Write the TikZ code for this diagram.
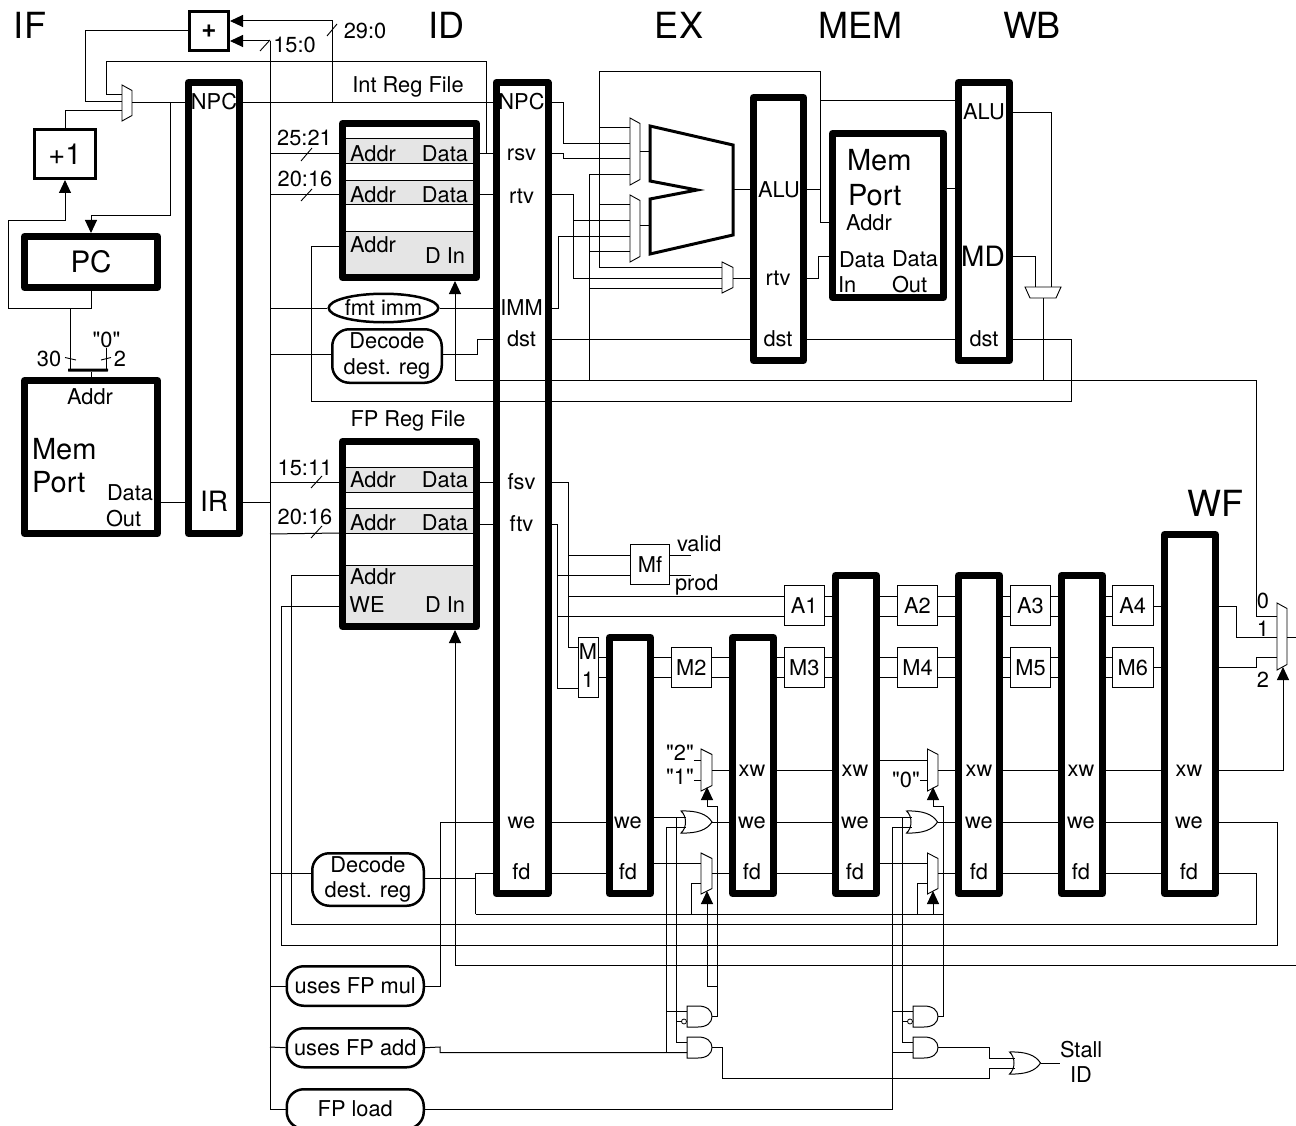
\documentclass[tikz,border=0pt]{standalone}
\usepackage{fontspec}
\setmainfont{TeX Gyre Heros}
\newfontfamily\plainq{TeX Gyre Heros}
\usetikzlibrary{arrows.meta,shapes.geometric}
\newcounter{labn}
\newcommand{\fs}[1]{\fontsize{#1}{#1}\selectfont}
\def\shrv{0}
\tikzset{
  shr/.code={\def\shrv{#1}},
  wire/.style={line width=1pt,line join=miter},
  arr/.style={-{Triangle[length=13pt,width=12pt]}},
  tick/.style={line width=.9pt},
  txt/.style={inner sep=0pt,outer sep=0pt,font=\fs{21.8}},
  big/.style={font=\fs{36}},
  mid/.style={font=\fs{29}},
  reg/.style={shr=7,draw,fill=white,line width=7pt,outer sep=3.5pt,line join=round,inner sep=0pt},
  thinbox/.style={shr=1,draw,fill=white,line width=1pt,outer sep=.5pt,inner sep=0pt,font=\fs{21.8}},
  medbox/.style={shr=2.6,draw,fill=white,line width=2.6pt,outer sep=1.3pt,inner sep=0pt},
  pill/.style={shr=2.5,draw,fill=white,line width=2.5pt,outer sep=1.25pt,rounded corners=17pt,inner sep=0pt,font=\fs{21.8},align=center},
  stripe/.style={shr=1,draw,fill=black!10,line width=1pt,outer sep=.5pt,inner sep=0pt},
  barb/.style={fill=black,inner sep=0pt,outer sep=0pt,rounded corners=.5pt},
  muxline/.style={draw,fill=white,line width=.9pt},
  gatebox/.style={inner sep=0pt,outer sep=0pt},
  gateline/.style={draw,fill=white,line width=1pt},
}
% style, name, x1, y1, x2, y2 (outer edges), text
\newcommand{\boxat}[7]{%
  \pgfmathsetmacro\bw{#5-#3}\pgfmathsetmacro\bh{#6-#4}%
  \pgfmathsetmacro\bx{(#3+#5)/2}\pgfmathsetmacro\by{(#4+#6)/2}%
  \node[#1,minimum width=\bw pt-\shrv pt,minimum height=\bh pt-\shrv pt] (#2) at (\bx,\by) {#7};}
\newcommand{\lab}[4][]{\stepcounter{labn}\node[txt,#1] (lab\arabic{labn}) at (#2,#3) {#4};}
% name, x1, x2, ytop, ybottom of the long side
\newcommand{\mux}[5]{%
  \pgfmathsetmacro\bw{#3-#2}\pgfmathsetmacro\bh{#5-#4}%
  \pgfmathsetmacro\bx{(#2+#3)/2}\pgfmathsetmacro\by{(#4+#5)/2}%
  \pgfmathsetmacro\ya{#4+5.5}\pgfmathsetmacro\yb{#5-5.5}%
  \node[gatebox,minimum width=\bw pt,minimum height=\bh pt] (#1) at (\bx,\by) {};
  \draw[muxline] (#2,#4) -- (#3,\ya) -- (#3,\yb) -- (#2,#5) -- cycle;}
% name, left x, centre y
\newcommand{\orgate}[3]{\begin{scope}[shift={(#2,#3)}]
  \node[gatebox,minimum width=31pt,minimum height=22pt] (#1) at (15.5,0) {};
  \draw[gateline] (0,-11) .. controls (16,-11.5) and (26,-8) .. (31,0) .. controls (26,8) and (16,11.5) .. (0,11) .. controls (6,6) and (6,-6) .. (0,-11) -- cycle;
  \coordinate (#1-a) at (5,-5);\coordinate (#1-b) at (5,5);\coordinate (#1-o) at (31,0);
  \end{scope}}
\newcommand{\andgate}[3]{\begin{scope}[shift={(#2,#3)}]
  \node[gatebox,minimum width=25pt,minimum height=21pt] (#1) at (12.5,0) {};
  \draw[gateline] (0,-10.5) -- (11,-10.5) .. controls (20,-10.5) and (25,-6) .. (25,0) .. controls (25,6) and (20,10.5) .. (11,10.5) -- (0,10.5) -- cycle;
  \coordinate (#1-a) at (0,-5);\coordinate (#1-b) at (0,5);\coordinate (#1-o) at (25,0);
  \end{scope}}
\begin{document}
\begin{tikzpicture}[x=1pt,y=-1pt]
\useasboundingbox (0,0) rectangle (1296,1126);
\clip (0,0) rectangle (1296,1126);

% ---- blocks
\boxat{medbox,font=\bfseries\fs{26}}{plus}{188}{10}{230}{52}{+}
\boxat{medbox,font=\fs{29}}{inc}{33}{128}{97}{180}{+1}
\boxat{reg,font=\fs{29.5}}{pc}{21}{233}{161}{291}{PC}
\boxat{reg}{imem}{21}{377}{161}{537}{}
\boxat{barb}{bar}{68}{368.5}{108}{371.5}{}
\mux{mux0}{122}{132}{85}{121}
\boxat{reg}{ifid}{185}{79}{243}{537}{}
\boxat{reg}{intreg}{339}{120}{480}{281}{}
\boxat{stripe}{is1}{345}{138}{474}{164}{}
\boxat{stripe}{is2}{345}{180}{474}{205}{}
\boxat{stripe}{is3}{345}{231}{474}{275}{}
\node[draw,fill=white,ellipse,line width=2.5pt,outer sep=1.25pt,inner sep=0pt,minimum width=102.5pt,minimum height=28.5pt,font=\fs{21.8}] (fmt) at (383.5,308) {fmt imm};
\boxat{pill}{dec1}{331}{328}{443}{384}{Decode\\[4pt]dest. reg}
\boxat{reg}{fpreg}{339}{438}{480}{630}{}
\boxat{stripe}{fs1}{345}{467}{474}{493}{}
\boxat{stripe}{fs2}{345}{508}{474}{534}{}
\boxat{stripe}{fs3}{345}{565}{474}{624}{}
\boxat{reg}{idex}{492.5}{79}{551.5}{897}{}
\mux{mux1}{630}{640}{118}{185}
\mux{mux2}{630}{640}{195}{262}
\mux{mux3}{722}{733}{262}{293}
\node[gatebox,minimum width=83pt,minimum height=128pt] (alu) at (691.5,190) {};
\draw[line width=3pt,line join=miter] (650,126) -- (733,145) -- (733,235) -- (650,254) -- (650,199) -- (697,190) -- (650,181) -- cycle;
\boxat{reg}{exmem}{750}{94}{807}{364}{}
\boxat{reg}{dmem}{829}{130}{947}{301}{}
\boxat{reg}{memwb}{955}{79}{1013}{364}{}
\node[gatebox,minimum width=36pt,minimum height=11pt] (wbmux) at (1043,292.5) {};
\draw[muxline] (1025,287) -- (1061,287) -- (1056,298) -- (1030,298) -- cycle;
\boxat{thinbox}{mf}{630}{544}{670}{585}{Mf}
\boxat{thinbox}{a1}{783.5}{585}{825}{626}{A1}
\boxat{thinbox}{a2}{897}{585}{938}{626}{A2}
\boxat{thinbox}{a3}{1010}{585}{1051}{626}{A3}
\boxat{thinbox}{a4}{1112}{585}{1153.5}{626}{A4}
\boxat{thinbox}{m1}{578}{637}{599}{698}{}
\boxat{thinbox}{m2}{670.5}{647}{712}{688}{M2}
\boxat{thinbox}{m3}{783.5}{647}{825}{688}{M3}
\boxat{thinbox}{m4}{897}{647}{938}{688}{M4}
\boxat{thinbox}{m5}{1010}{647}{1051}{688}{M5}
\boxat{thinbox}{m6}{1112}{647}{1153.5}{688}{M6}
\boxat{reg}{r1}{606}{634}{654}{897}{}
\boxat{reg}{r2}{729}{634}{777}{897}{}
\boxat{reg}{r3}{832}{572}{880}{897}{}
\boxat{reg}{r4}{955}{572}{1003}{897}{}
\boxat{reg}{r5}{1058}{572}{1106}{897}{}
\boxat{reg}{wf}{1161}{531}{1219}{897}{}
\mux{muxA}{701}{712}{749}{791}
\mux{muxB}{701}{712}{853}{894}
\mux{muxD}{927.5}{938}{749}{791}
\mux{muxE}{927.5}{938}{853}{894}
\mux{muxW}{1277}{1287}{603}{670}
\orgate{orA}{681}{822}
\orgate{orB}{906.5}{822}
\orgate{orS}{1009.5}{1063}
\andgate{andA}{687}{1016.5}
\andgate{andB}{687}{1047.5}
\andgate{andC}{913}{1016.5}
\andgate{andD}{913}{1047.5}
\node[draw,fill=white,circle,line width=.8pt,inner sep=0pt,minimum size=5pt] (bubA) at (684,1021.5) {};
\node[draw,fill=white,circle,line width=.8pt,inner sep=0pt,minimum size=5pt] (bubC) at (910,1021.5) {};
\boxat{pill}{dec2}{311}{852}{425}{907}{Decode\\[4pt]dest. reg}
\boxat{pill}{fmul}{285.5}{965}{425}{1007}{uses FP mul}
\boxat{pill}{fadd}{285.5}{1027}{425}{1068.5}{uses FP add}
\boxat{pill}{fload}{285.5}{1088}{425}{1130}{FP load}

% ---- labels that wires start from
\lab{106.5}{340}{\plainq "0"}
\node[txt] (q2) at (680,753) {\plainq "2"};
\node[txt] (q1) at (680,777) {\plainq "1"};
\node[txt] (q0) at (906,780) {\plainq "0"};
\node[txt,anchor=west] (stall) at (1060,1049.5) {Stall};
\coordinate (vend) at (691,555);
\coordinate (pend) at (691,575);
\coordinate (out) at (1296,637);
\coordinate (dinend) at (1296,965);

% ---- IF wires
\draw[wire] (plus.west) -- (85.5,31) -- (85.5,102) -- (mux0.west |- 0,102);
\draw[wire] (intreg.east |- 0,154) -- (idex.west |- 0,154);
\draw[wire] (486,154) -- (486,62) -- (106,62) -- (106,95) -- (mux0.west |- 0,95);
\draw[wire] (inc.north) -- (65,111) -- (mux0.west |- 0,111);
\draw[wire] (mux0.east |- 0,103) -- (ifid.west |- 0,103);
\draw[wire,arr] (170,103) -- (170,216) -- (pc.north |- 0,216) -- (pc.north);
\draw[wire,arr] (pc.south) -- (91,308) -- (8,308) -- (8,221) -- (65,221) -- (inc.south);
\draw[wire] (70,308) -- (70,0 |- bar.north);
\draw[wire] (lab1.south) -- (lab1.south |- bar.north);
\draw[wire] (bar.south -| imem.north) -- (imem.north);
\draw[tick] (65,357.5) -- (76,360);
\draw[tick] (101,360) -- (111,357.5);
\draw[wire] (imem.east |- 0,502) -- (ifid.west |- 0,502);
\draw[wire] (ifid.east |- 0,502) -- (270,502);
\draw[wire] (ifid.east |- 0,103) -- (idex.west |- 0,103);
\draw[wire,arr] (332,103) -- (332,21) -- (plus.east |- 0,21);
\draw[tick] (327,36) -- (337,24);
\draw[wire,arr] (270,41) -- (plus.east |- 0,41);
\draw[tick] (260,51) -- (270,40);
\draw[wire] (270,41) -- (270,1109) -- (fload.west);

% ---- ID inputs
\draw[wire] (270,154) -- (intreg.west |- 0,154);
\draw[tick] (301,161) -- (312,148);
\draw[wire] (270,195) -- (intreg.west |- 0,195);
\draw[tick] (301,201) -- (312,189);
\draw[wire] (intreg.east |- 0,195) -- (idex.west |- 0,195);
\draw[wire] (270,308) -- (fmt.west);
\draw[wire] (fmt.east) -- (idex.west |- 0,308);
\draw[wire] (270,354) -- (dec1.west |- 0,354);
\draw[wire] (dec1.east |- 0,354) -- (477,354) -- (477,339) -- (idex.west |- 0,339);
\draw[wire] (intreg.west |- 0,247) -- (311,247) -- (311,401) -- (1071,401) -- (1071,339) -- (memwb.east |- 0,339);
\draw[wire,arr] (dinend) -- (455,965) -- (455,0 |- fpreg.south);
\draw[wire,arr] (muxW.west |- 0,616) -- (1256,616) -- (1256,380) -- (455,380) -- (455,0 |- intreg.south);
\draw[wire] (270,482) -- (fpreg.west |- 0,482);
\draw[tick] (311,488) -- (322,476);
\draw[wire] (270,534) -- (fpreg.west |- 0,533);
\draw[tick] (311,538) -- (322,526);
\draw[wire] (fpreg.east |- 0,482) -- (idex.west |- 0,482);
\draw[wire] (fpreg.east |- 0,524) -- (idex.west |- 0,524);
\draw[wire] (fpreg.west |- 0,575) -- (291,575) -- (291,924) -- (1256,924) -- (1256,873) -- (wf.east |- 0,873);
\draw[wire] (fpreg.west |- 0,606) -- (281,606) -- (281,945) -- (1277,945) -- (1277,822) -- (wf.east |- 0,822);
\draw[wire] (270,873) -- (dec2.west |- 0,873);
\draw[wire] (dec2.east |- 0,878) -- (475.5,878);
\draw[wire] (475.5,914) -- (475.5,873) -- (idex.west |- 0,873);
\draw[wire] (270,986) -- (fmul.west);
\draw[wire] (fmul.east) -- (440,986) -- (440,822) -- (idex.west |- 0,822);
\draw[wire] (270,1047) -- (fadd.west);

% ---- EX
\draw[wire] (idex.east |- 0,103) -- (563,103) -- (563,144) -- (mux1.west |- 0,144);
\draw[wire] (idex.east |- 0,154) -- (563,154) -- (563,159) -- (mux1.west |- 0,159);
\draw[wire] (idex.east |- 0,195) -- (573,195) -- (573,278) -- (mux3.west |- 0,278);
\draw[wire] (573,221) -- (mux2.west |- 0,221);
\draw[wire] (idex.east |- 0,308) -- (558,308) -- (558,237) -- (mux2.west |- 0,237);
\draw[wire] (idex.east |- 0,339) -- (exmem.west |- 0,339);
\draw[wire] (exmem.east |- 0,339) -- (memwb.west |- 0,339);
\draw[wire] (mux3.west |- 0,267) -- (599,267) -- (599,72) -- (820,72) -- (820,223) -- (dmem.west |- 0,223);
\draw[wire] (599,128) -- (mux1.west |- 0,128);
\draw[wire] (599,205) -- (mux2.west |- 0,205);
\draw[wire] (589,380) -- (589,175) -- (mux1.west |- 0,175);
\draw[wire] (589,252) -- (mux2.west |- 0,252);
\draw[wire] (589,288) -- (mux3.west |- 0,288);
\draw[wire] (mux1.east |- 0,152) -- (650,152);
\draw[wire] (mux2.east |- 0,226) -- (650,226);
\draw[wire] (733,190) -- (exmem.west |- 0,190);
\draw[wire] (mux3.east |- 0,278) -- (exmem.west |- 0,278);
\draw[wire] (exmem.east |- 0,190) -- (820,190);
\draw[wire] (820,101) -- (memwb.west |- 0,101);
\draw[wire] (exmem.east |- 0,278) -- (818,278) -- (818,257) -- (dmem.west |- 0,257);
\draw[wire] (dmem.east |- 0,189) -- (memwb.west |- 0,189);
\draw[wire] (memwb.east |- 0,113) -- (1051,113) -- (1051,0 |- wbmux.north);
\draw[wire] (memwb.east |- 0,257) -- (1035,257) -- (1035,0 |- wbmux.north);
\draw[wire] (wbmux.south) -- (wbmux.south |- 0,380);

% ---- FP
\draw[wire] (idex.east |- 0,482) -- (568,482) -- (568,647) -- (m1.west |- 0,647);
\draw[wire] (idex.east |- 0,524) -- (557.5,524) -- (557.5,688) -- (m1.west |- 0,688);
\draw[wire] (568,555) -- (mf.west |- 0,555);
\draw[wire] (557.5,575) -- (mf.west |- 0,575);
\draw[wire] (568,596) -- (a1.west |- 0,596);
\draw[wire] (557.5,616) -- (a1.west |- 0,616);
\draw[wire] (mf.east |- 0,555) -- (vend);
\draw[wire] (mf.east |- 0,575) -- (pend);
\foreach \a/\b in {a1/r3,r3/a2,a2/r4,r4/a3,a3/r5,r5/a4}{
  \foreach \y in {596,616}{\draw[wire] (\a.east |- 0,\y) -- (\b.west |- 0,\y);}}
\foreach \a/\b in {m1/r1,r1/m2,m2/r2,r2/m3,m3/r3,r3/m4,m4/r4,r4/m5,m5/r5,r5/m6}{
  \foreach \y in {657,677}{\draw[wire] (\a.east |- 0,\y) -- (\b.west |- 0,\y);}}
\draw[wire] (a4.east |- 0,606) -- (wf.west |- 0,606);
\draw[wire] (m6.east |- 0,667) -- (wf.west |- 0,667);
\draw[wire] (wf.east |- 0,606) -- (1236,606) -- (1236,637) -- (muxW.west |- 0,637);
\draw[wire] (wf.east |- 0,667) -- (1256,667) -- (1256,657) -- (muxW.west |- 0,657);
\draw[wire] (muxW.east |- 0,637) -- (out);
\draw[wire,arr] (wf.east |- 0,770) -- (1283,770) -- (1283,667);
\foreach \a/\b in {r2/r3,r4/r5,r5/wf}{
  \foreach \y in {770,822,873}{\draw[wire] (\a.east |- 0,\y) -- (\b.west |- 0,\y);}}
\draw[wire] (idex.east |- 0,822) -- (r1.west |- 0,822);
\draw[wire] (idex.east |- 0,873) -- (r1.west |- 0,873);
\draw[wire] (muxA.east |- 0,770) -- (r2.west |- 0,770);
\draw[wire] (muxD.east |- 0,770) -- (r4.west |- 0,770);
\draw[wire] (muxB.east |- 0,873) -- (r2.west |- 0,873);
\draw[wire] (muxE.east |- 0,873) -- (r4.west |- 0,873);
\draw[wire] (orA-o) -- (r2.west |- orA-o);
\draw[wire] (orB-o) -- (r4.west |- orB-o);
\draw[wire] (q2.east |- 0,760) -- (muxA.west |- 0,760);
\draw[wire] (q1.east |- 0,780) -- (muxA.west |- 0,780);
\draw[wire] (r3.east |- 0,760) -- (muxD.west |- 0,760);
\draw[wire] (q0.east |- 0,780) -- (muxD.west |- 0,780);
\draw[wire] (r1.east |- 0,863) -- (muxB.west |- 0,863);
\draw[wire] (r3.east |- 0,863) -- (muxE.west |- 0,863);
\draw[wire] (475.5,914) -- (943,914);
\draw[wire] (691,914) -- (691,883) -- (muxB.west |- 0,883);
\draw[wire] (917.5,914) -- (917.5,883) -- (muxE.west |- 0,883);
\draw[wire,arr] (andA-o) -- (717,0 |- andA-o) -- (717,806) -- (707,806) -- (707,787);
\draw[wire,arr] (717,986.5) -- (707,986.5) -- (707,891);
\draw[wire,arr] (andC-o) -- (943,0 |- andC-o) -- (943,806) -- (933,806) -- (933,787);
\draw[wire,arr] (933,914) -- (933,891);
% we and uses-add fans
\draw[wire] (r1.east |- orA-a) -- (orA-a);
\draw[wire] (676,0 |- orA-a) -- (676,0 |- andB-a) -- (andB-a);
\draw[wire] (676,0 |- bubA) -- (bubA.west);
\draw[wire] (fadd.east) -- (440,1047) -- (440,0 |- andB-b) -- (andB-b);
\draw[wire] (666,0 |- andB-b) -- (666,0 |- orA-b) -- (orA-b);
\draw[wire] (666,0 |- andA-a) -- (andA-a);
\draw[wire] (r3.east |- orB-a) -- (orB-a);
\draw[wire] (902,0 |- orB-a) -- (902,0 |- andD-a) -- (andD-a);
\draw[wire] (902,0 |- bubC) -- (bubC.west);
\draw[wire] (fload.east) -- (892,0 |- fload.east) -- (892,0 |- orB-b) -- (orB-b);
\draw[wire] (892,0 |- andC-a) -- (andC-a);
\draw[wire] (892,0 |- andD-b) -- (andD-b);
\draw[wire] (andD-o) -- (989,0 |- andD-o) -- (989,0 |- orS-a) -- (orS-a);
\draw[wire] (andB-o) -- (722,0 |- andB-o) -- (722,1078) -- (989,1078) -- (989,0 |- orS-b) -- (orS-b);
\draw[wire] (orS-o) -- (stall.west |- orS-o);

% ---- texts
\lab[big]{30}{25}{IF}
\lab[big]{446}{25}{ID}
\lab[big]{679}{25}{EX}
\lab[big]{860}{25}{MEM}
\lab[big]{1032}{25}{WB}
\lab[big]{1215}{503}{WF}
\lab{365}{31}{29:0}
\lab{294.5}{45}{15:0}
\lab{408}{87}{Int Reg File}
\lab{408}{421}{FP Reg File}
\lab{304.5}{138}{25:21}
\lab{305}{179}{20:16}
\lab{305}{468}{15:11}
\lab{305}{517}{20:16}
\lab{49}{359}{30}
\lab{120}{359}{2}
\lab{90}{397}{Addr}
\lab[mid,anchor=west]{32}{449}{Mem}
\lab[mid,anchor=west]{32}{482}{Port}
\lab[anchor=west]{107}{493}{Data}
\lab[anchor=west]{106}{519}{Out}
\lab{214}{102}{NPC}
\lab[font=\fs{28}]{214}{501}{IR}
\foreach \y/\tt in {154/Addr,195/Addr,245/Addr,480/Addr,523/Addr,577/Addr}{\lab{373}{\y}{\tt}}
\lab{367}{605}{WE}
\foreach \y/\tt in {154/Data,195/Data,256/D In,480/Data,523/Data,605/D In}{\lab{445}{\y}{\tt}}
\foreach \y/\tt in {102/NPC,155/rsv,196/rtv,308/IMM,339/dst,482/fsv,524/ftv,823/we,872/fd}{\lab{521.5}{\y}{\tt}}
\lab{779}{190}{ALU}
\lab{778}{278}{rtv}
\lab{778}{339}{dst}
\lab[mid,anchor=west]{847}{160}{Mem}
\lab[mid,anchor=west]{848}{195}{Port}
\lab[anchor=west]{846}{223}{Addr}
\lab[anchor=west]{839}{260}{Data}
\lab[anchor=west]{838}{285}{In}
\lab[anchor=west]{892}{259}{Data}
\lab[anchor=west]{892}{285}{Out}
\lab{984}{112}{ALU}
\lab[font=\fs{28}]{983}{256}{MD}
\lab{984}{339}{dst}
\lab[anchor=west]{677}{544}{valid}
\lab[anchor=west]{675}{585}{prod}
\lab{588}{652}{M}
\lab{588}{680}{1}
\lab{1263}{601}{0}
\lab{1263}{629}{1}
\lab{1263}{680}{2}
\lab{628}{823}{we}
\lab{628}{872}{fd}
\foreach \x in {752,855,979,1081,1189}{\lab{\x}{771}{xw}\lab{\x}{823}{we}\lab{\x}{872}{fd}}
\lab{1081}{1075}{ID}
\end{tikzpicture}
\end{document}
